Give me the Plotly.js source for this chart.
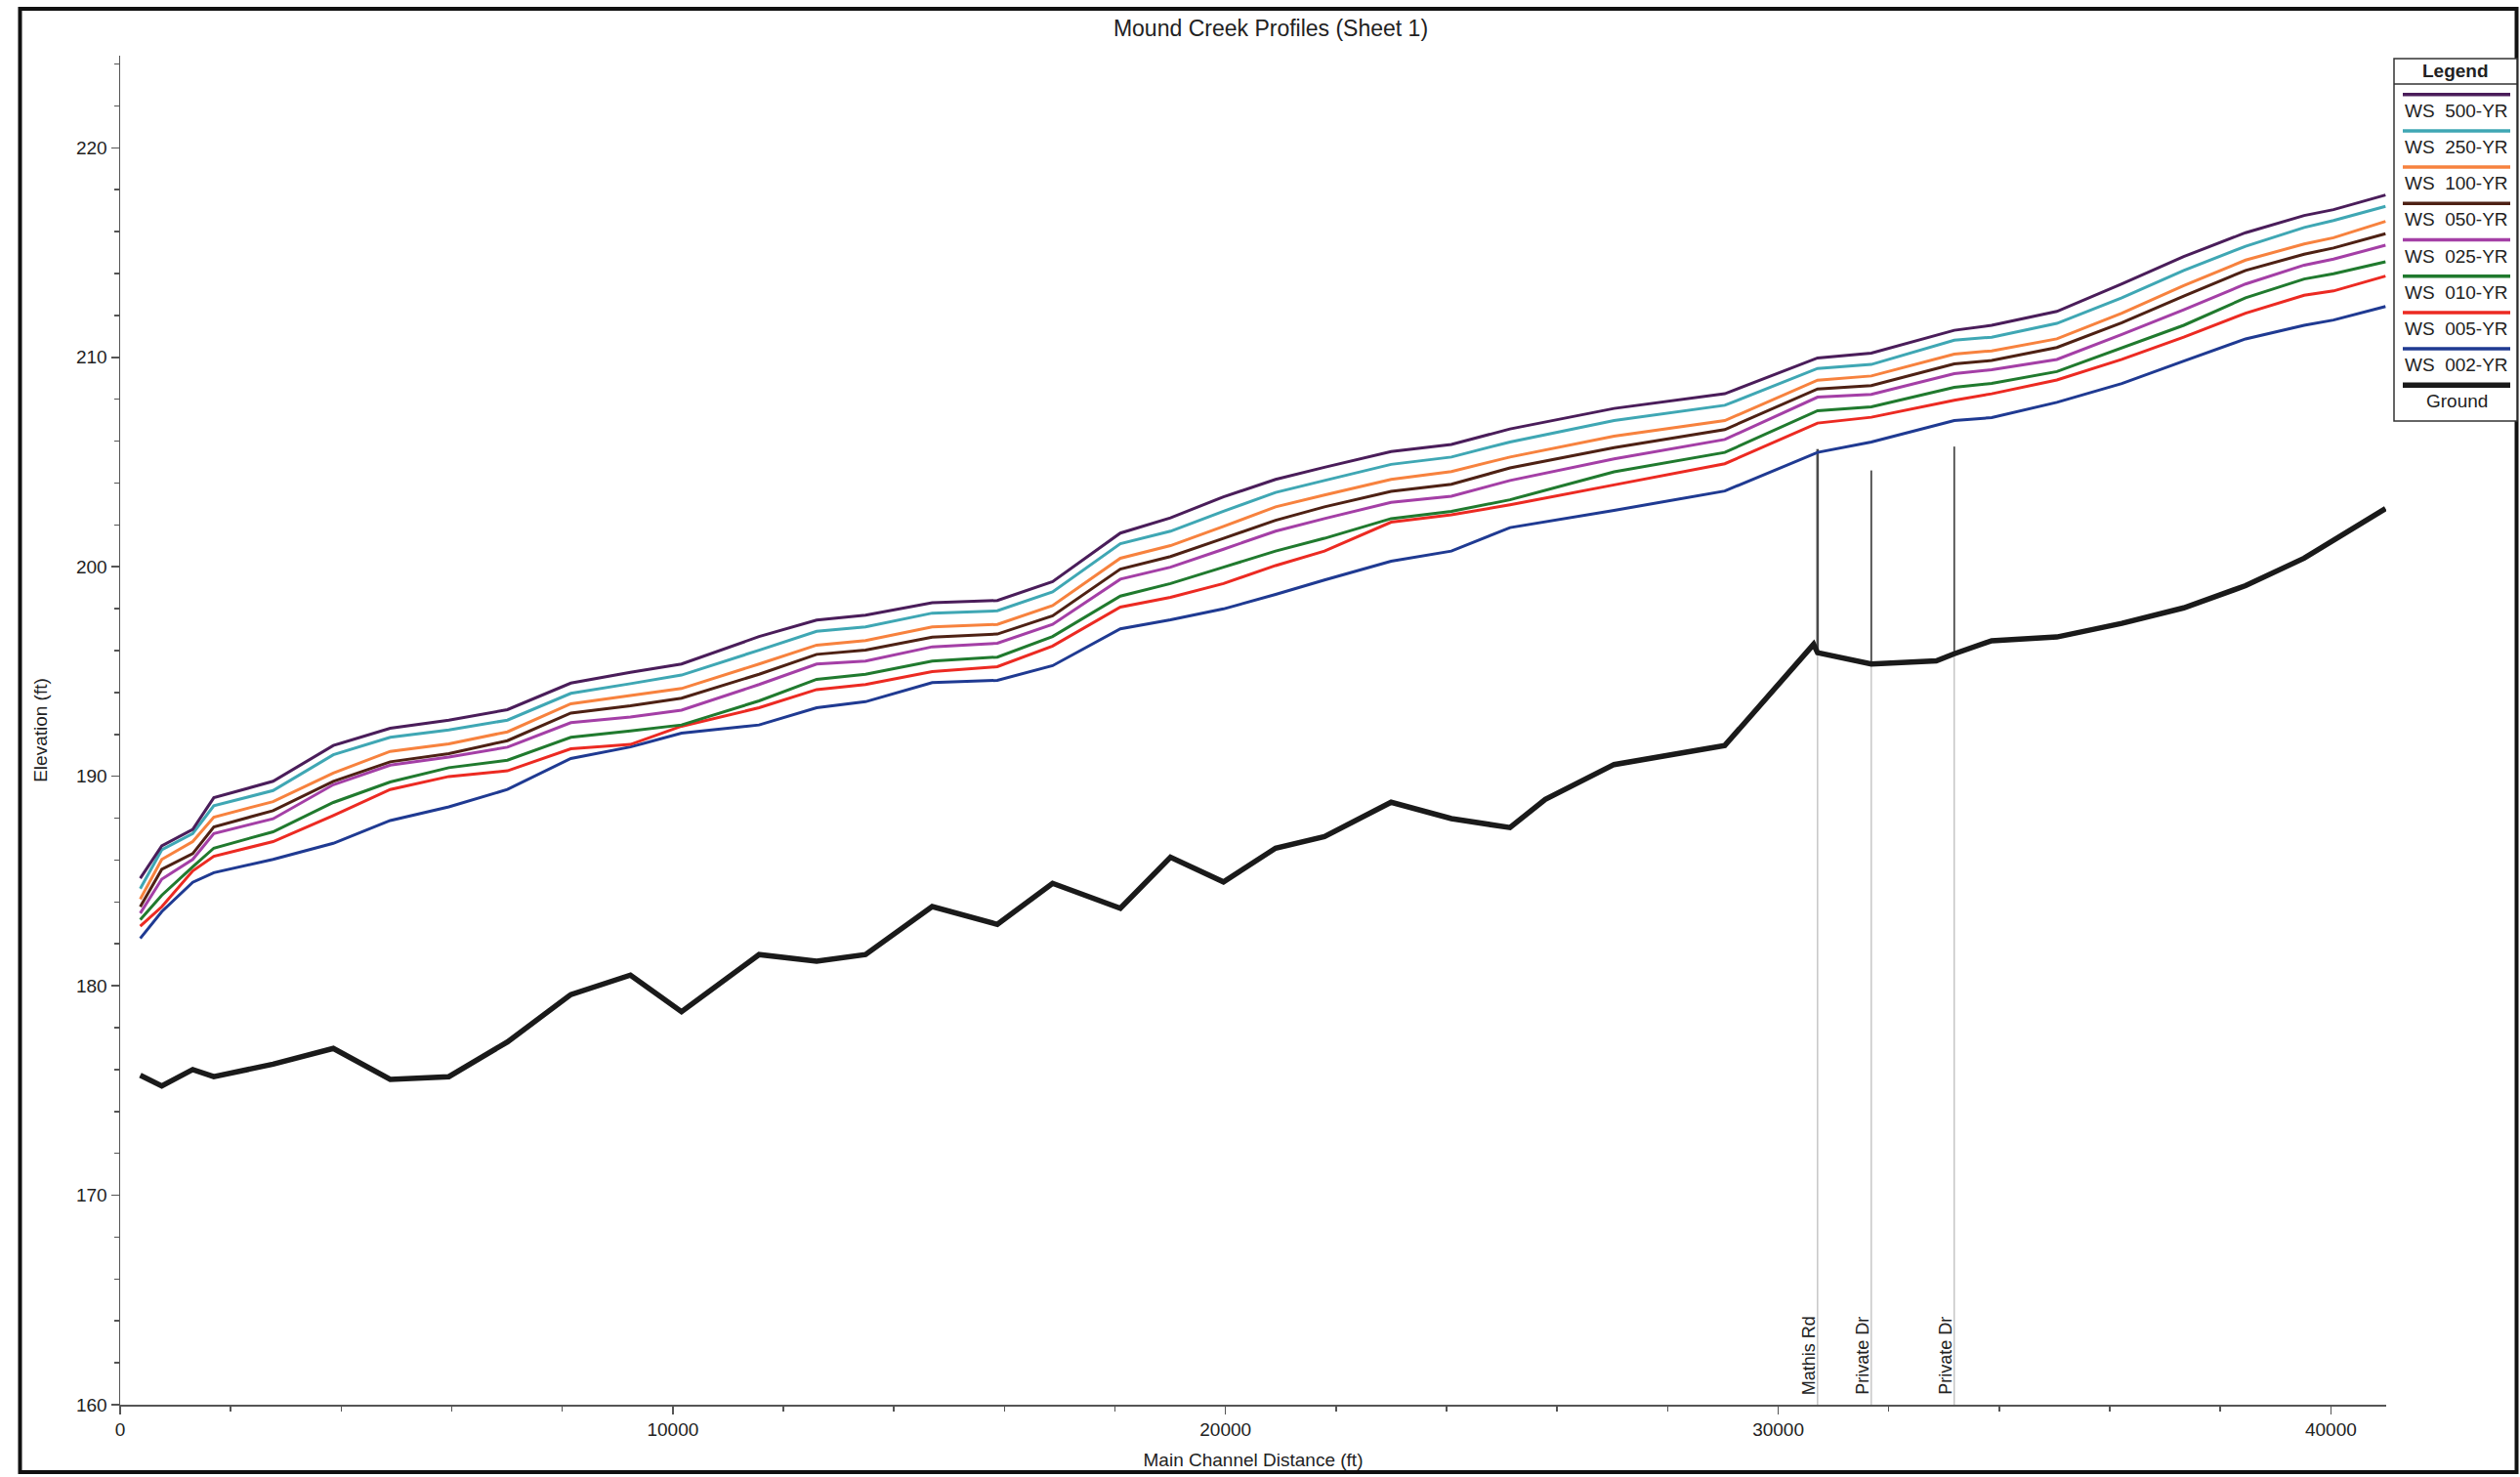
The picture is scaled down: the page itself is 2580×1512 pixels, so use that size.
<!DOCTYPE html>
<html>
<head>
<meta charset="utf-8">
<script src="https://cdn.plot.ly/plotly-3.0.1.min.js"></script>
<style>
  html, body { margin: 0; padding: 0; background: #ffffff; }
  #chart { width: 2580px; height: 1512px; }
</style>
</head>
<body>
<div id="chart"></div>
<script>
// Main channel stations (ft) at which water surfaces are plotted
const wsStation = [364, 753, 1313, 1695, 2767, 3857, 4887, 5947, 7007, 8155, 9233, 10157, 11560, 12602, 13486, 14693, 15871, 16871, 18097, 19004, 19963, 20906, 21790, 22996, 24086, 25147, 27030, 29033, 30712, 31684, 33185, 33862, 35041, 36217, 37337, 38456, 39516, 40046, 40988];

// Water surface elevations (ft) per return period
const ws500 = [185.13, 186.68, 187.46, 188.98, 189.76, 191.47, 192.29, 192.68, 193.18, 194.45, 194.96, 195.36, 196.67, 197.46, 197.69, 198.28, 198.39, 199.29, 201.61, 202.34, 203.34, 204.17, 204.75, 205.50, 205.84, 206.58, 207.56, 208.26, 209.97, 210.20, 211.29, 211.53, 212.19, 213.50, 214.81, 215.95, 216.77, 217.05, 217.75];
const ws250 = [184.63, 186.49, 187.27, 188.59, 189.32, 191.03, 191.86, 192.21, 192.68, 193.96, 194.42, 194.83, 196.02, 196.92, 197.13, 197.79, 197.90, 198.80, 201.10, 201.70, 202.65, 203.55, 204.12, 204.89, 205.24, 205.96, 206.98, 207.71, 209.47, 209.66, 210.82, 210.96, 211.62, 212.84, 214.15, 215.30, 216.20, 216.53, 217.21];
const ws100 = [184.13, 186.03, 186.88, 188.05, 188.79, 190.15, 191.19, 191.55, 192.12, 193.46, 193.86, 194.19, 195.36, 196.26, 196.48, 197.13, 197.25, 198.15, 200.41, 201.01, 201.93, 202.86, 203.43, 204.17, 204.55, 205.24, 206.24, 206.98, 208.91, 209.11, 210.15, 210.31, 210.88, 212.11, 213.42, 214.64, 215.41, 215.71, 216.49];
const ws050 = [183.77, 185.56, 186.31, 187.58, 188.36, 189.76, 190.69, 191.08, 191.70, 193.02, 193.37, 193.73, 194.87, 195.82, 196.02, 196.64, 196.79, 197.66, 199.89, 200.49, 201.36, 202.22, 202.86, 203.60, 203.94, 204.72, 205.69, 206.55, 208.49, 208.65, 209.69, 209.85, 210.47, 211.65, 212.92, 214.15, 214.92, 215.22, 215.90];
const ws025 = [183.46, 185.09, 186.03, 187.27, 187.97, 189.60, 190.53, 190.92, 191.39, 192.56, 192.83, 193.16, 194.38, 195.36, 195.50, 196.18, 196.35, 197.25, 199.41, 199.98, 200.84, 201.70, 202.30, 203.08, 203.37, 204.12, 205.15, 206.08, 208.10, 208.23, 209.22, 209.41, 209.90, 211.09, 212.27, 213.50, 214.40, 214.69, 215.35];
const ws010 = [183.15, 184.32, 185.68, 186.57, 187.35, 188.75, 189.73, 190.41, 190.77, 191.86, 192.17, 192.45, 193.60, 194.63, 194.87, 195.50, 195.69, 196.67, 198.60, 199.20, 199.98, 200.75, 201.36, 202.30, 202.65, 203.20, 204.53, 205.46, 207.45, 207.64, 208.57, 208.75, 209.32, 210.47, 211.53, 212.84, 213.74, 213.99, 214.56];
const ws005 = [182.84, 183.77, 185.48, 186.18, 186.88, 188.13, 189.37, 189.99, 190.26, 191.31, 191.52, 192.39, 193.27, 194.14, 194.38, 195.00, 195.23, 196.22, 198.08, 198.54, 199.20, 200.06, 200.75, 202.13, 202.48, 202.96, 203.91, 204.92, 206.86, 207.14, 207.95, 208.26, 208.92, 209.90, 210.96, 212.11, 212.96, 213.17, 213.88];
const ws002 = [182.26, 183.54, 184.94, 185.40, 186.03, 186.80, 187.89, 188.54, 189.37, 190.85, 191.40, 192.06, 192.45, 193.27, 193.56, 194.47, 194.58, 195.28, 197.04, 197.47, 197.99, 198.68, 199.37, 200.27, 200.75, 201.87, 202.69, 203.62, 205.46, 205.96, 206.98, 207.12, 207.85, 208.75, 209.82, 210.88, 211.53, 211.78, 212.43];

// Channel invert (ground) profile
const groundStation = [364, 753, 1313, 1695, 2767, 3857, 4887, 5947, 7007, 8155, 9233, 10157, 11560, 12602, 13486, 14693, 15871, 16871, 18097, 19004, 19963, 20906, 21790, 22996, 24086, 25147, 25785, 27030, 29033, 30640, 30712, 31684, 32860, 33185, 33862, 35041, 36217, 37337, 38456, 39516, 40988];
const groundElev = [175.73, 175.22, 176.00, 175.66, 176.26, 177.01, 175.53, 175.66, 177.32, 179.58, 180.51, 178.76, 181.49, 181.17, 181.49, 183.78, 182.93, 184.89, 183.70, 186.14, 184.96, 186.57, 187.12, 188.76, 187.98, 187.55, 188.90, 190.56, 191.47, 196.30, 195.90, 195.36, 195.51, 195.85, 196.47, 196.65, 197.30, 198.04, 199.10, 200.41, 202.78];

// Crossings
const bridgeName = ["Mathis Rd", "Private Dr", "Private Dr"];
const bridgeStation = [30712, 31684, 33185];
const bridgeLow = [195.90, 195.36, 195.85];
const bridgeTop = [205.62, 204.60, 205.74];

// Legend labels, top to bottom
const seriesNames = ["WS  500-YR", "WS  250-YR", "WS  100-YR", "WS  050-YR", "WS  025-YR", "WS  010-YR", "WS  005-YR", "WS  002-YR", "Ground"];
const seriesValues = [ws500, ws250, ws100, ws050, ws025, ws010, ws005, ws002];
const seriesColors = ["#4a1d5a", "#3fa7b4", "#f7823e", "#4e2114", "#a43fa6", "#207a2e", "#ec2a22", "#1f3a92", "#1a1a1a"];

const FONT = "Liberation Sans, Arial, Helvetica, sans-serif";
const TXT = "#222222";

// plot area geometry (px) used for page furniture placed in paper coordinates
const L = 123, R = 2443, T = 57, B = 1438;
const px = x => (x - L) / (R - L);
const py = y => (B - y) / (B - T);

const traces = [];

// bridge openings: dark deck-to-ground line, light marker line below ground
bridgeStation.forEach((s, i) => {
  traces.push({
    type: "scatter", mode: "lines", x: [s, s], y: [160, bridgeLow[i]],
    line: { color: "#b8b8b8", width: 1.2 }, hoverinfo: "skip", showlegend: false
  });
  traces.push({
    type: "scatter", mode: "lines", x: [s, s], y: [bridgeLow[i], bridgeTop[i]],
    line: { color: "#4a4a4a", width: i === 0 ? 2.6 : 1.8 }, hoverinfo: "skip", showlegend: false
  });
});

// water surfaces, lowest drawn first
for (let i = seriesValues.length - 1; i >= 0; i--) {
  traces.push({
    type: "scatter", mode: "lines", name: seriesNames[i],
    x: wsStation, y: seriesValues[i],
    line: { color: seriesColors[i], width: 3 }, showlegend: false
  });
}

traces.push({
  type: "scatter", mode: "lines", name: "Ground",
  x: groundStation, y: groundElev,
  line: { color: seriesColors[8], width: 5.5 }, showlegend: false
});

const shapes = [];
const annotations = [];

// outer frame
shapes.push({
  type: "rect", xref: "paper", yref: "paper",
  x0: px(20.5), x1: px(2576.5), y0: py(1507), y1: py(9),
  line: { color: "#111111", width: 4 }, fillcolor: "rgba(0,0,0,0)", layer: "above"
});

// legend box
const LG = { x0: 2451, x1: 2577, y0: 60, y1: 431, head: 86, line0: 96.7, text0: 113.3, step: 37.2, lx0: 2460, lx1: 2570 };
shapes.push({
  type: "rect", xref: "paper", yref: "paper",
  x0: px(LG.x0), x1: px(LG.x1), y0: py(LG.y1), y1: py(LG.y0),
  line: { color: "#333333", width: 1.5 }, fillcolor: "#ffffff", layer: "above"
});
shapes.push({
  type: "line", xref: "paper", yref: "paper",
  x0: px(LG.x0), x1: px(LG.x1), y0: py(LG.head), y1: py(LG.head),
  line: { color: "#333333", width: 1.5 }, layer: "above"
});
annotations.push({
  xref: "paper", yref: "paper", x: px((LG.x0 + LG.x1) / 2), y: py(72.5),
  text: "<b>Legend</b>", showarrow: false, xanchor: "center", yanchor: "middle",
  font: { family: FONT, size: 19, color: TXT }
});
seriesNames.forEach((name, i) => {
  const ly = LG.line0 + i * LG.step;
  shapes.push({
    type: "line", xref: "paper", yref: "paper",
    x0: px(LG.lx0), x1: px(LG.lx1), y0: py(ly), y1: py(ly),
    line: { color: seriesColors[i], width: i === 8 ? 5.5 : 3.5 }, layer: "above"
  });
  annotations.push({
    xref: "paper", yref: "paper", x: px((LG.x0 + LG.x1) / 2 + 1), y: py(LG.text0 + i * LG.step),
    text: name.replace(/  /g, "\u00a0\u00a0"), showarrow: false, xanchor: "center", yanchor: "middle",
    font: { family: FONT, size: 19, color: TXT }
  });
});

// crossing names
bridgeStation.forEach((s, i) => {
  annotations.push({
    xref: "x", yref: "y", x: s, y: 160, xshift: 3, yshift: 8,
    text: bridgeName[i], textangle: -90, showarrow: false,
    xanchor: "right", yanchor: "bottom",
    font: { family: FONT, size: 18, color: TXT }
  });
});

const axisCommon = {
  showgrid: false, zeroline: false, showline: true,
  linecolor: "#555555", linewidth: 1.5,
  ticks: "outside", ticklen: 8, tickwidth: 1.5, tickcolor: "#555555",
  tickfont: { family: FONT, size: 19, color: TXT },
  automargin: false
};

const layout = {
  width: 2580, height: 1512,
  paper_bgcolor: "#ffffff", plot_bgcolor: "#ffffff",
  margin: { l: L, r: 2580 - R, t: T, b: 1512 - B, pad: 0 },
  showlegend: false,
  title: {
    text: "Mound Creek Profiles (Sheet 1)",
    font: { family: FONT, size: 23, color: TXT },
    xref: "paper", x: px(1301), xanchor: "center",
    yref: "container", y: 1 - 29 / 1512, yanchor: "middle"
  },
  xaxis: Object.assign({}, axisCommon, {
    range: [0, 41000], tickmode: "linear", tick0: 0, dtick: 10000,
    tickformat: "d",
    minor: { dtick: 2000, ticks: "outside", ticklen: 5, tickwidth: 1.5, tickcolor: "#555555", showgrid: false },
    title: { text: "Main Channel Distance (ft)", font: { family: FONT, size: 19, color: TXT }, standoff: 14 }
  }),
  yaxis: Object.assign({}, axisCommon, {
    range: [160, 224.4], tickmode: "linear", tick0: 160, dtick: 10,
    minor: { dtick: 2, ticks: "outside", ticklen: 5, tickwidth: 1.5, tickcolor: "#555555", showgrid: false },
    title: { text: "Elevation (ft)", font: { family: FONT, size: 19, color: TXT }, standoff: 24 }
  }),
  shapes: shapes,
  annotations: annotations
};

Plotly.newPlot("chart", traces, layout, { displayModeBar: false, staticPlot: true });
</script>
</body>
</html>
